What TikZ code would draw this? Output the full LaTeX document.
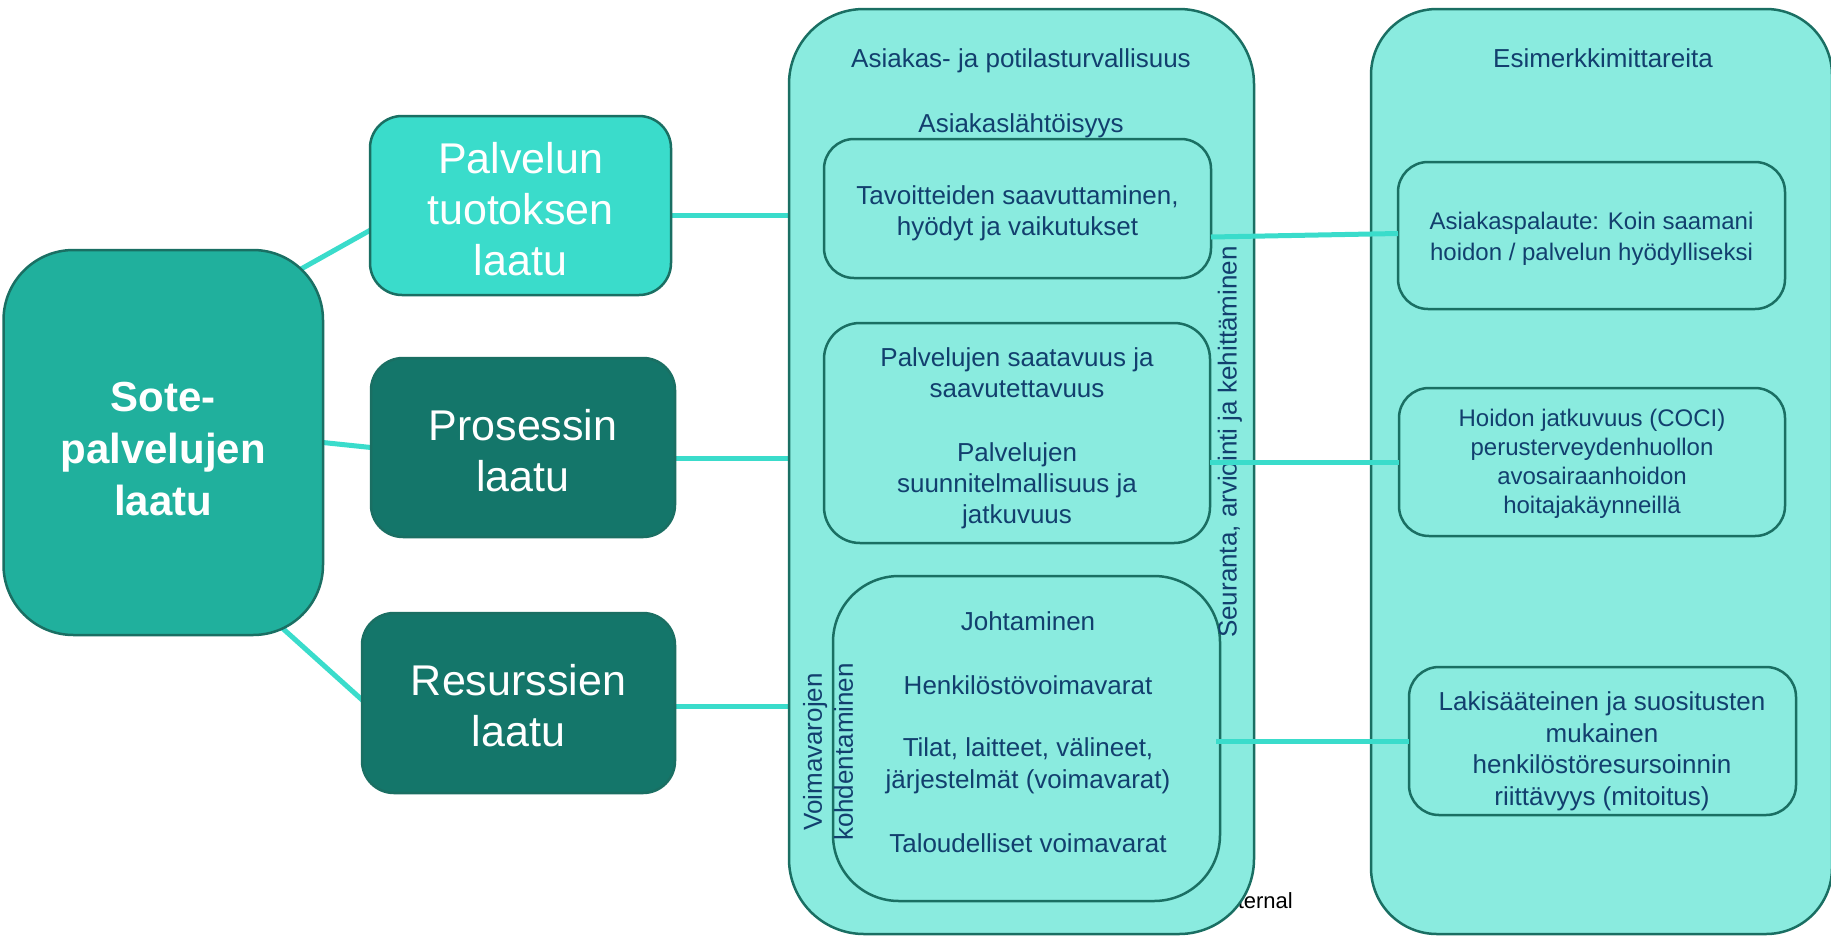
\documentclass[tikz,border=0pt]{standalone}
\usepackage{fontspec}
\setmainfont{Liberation Sans}
\usetikzlibrary{calc}

\definecolor{sotefill}{HTML}{20B09D}
\definecolor{brightfill}{HTML}{3ADCCB}
\definecolor{darkfill}{HTML}{14766A}
\definecolor{lightfill}{HTML}{8AEBDF}
\definecolor{edge}{HTML}{1A6F63}
\definecolor{ink}{HTML}{123F6E}
\definecolor{link}{HTML}{3ADCCB}

\pgfdeclarelayer{back}
\pgfsetlayers{back,main}

\begin{document}
\begin{tikzpicture}[x=1pt,y=-1pt,
  box/.style={rectangle, draw=edge, line width=2.5pt, inner sep=0pt, outer sep=0pt},
  panel/.style={box, fill=lightfill, rounded corners=#1},
  quality/.style={box, rounded corners=32pt},
  qualitytext/.style={text=white, align=center, font=\fontsize{43}{51}\selectfont},
  midtext/.style={text=ink, align=center, font=\fontsize{26}{31}\selectfont},
  smalltext/.style={text=ink, align=center, font=\fontsize{24}{29}\selectfont},
  link/.style={draw=link, line width=5pt}
]
\useasboundingbox (0,0) rectangle (1831,938);

% footer tag, partly hidden behind the middle panel
\begin{pgfonlayer}{back}
\node[anchor=base east, inner sep=0pt, font=\fontsize{22}{26}\selectfont, text=black] (tag) at (1293,908) {Internal};
\end{pgfonlayer}

% large panels
\node[panel=75pt, minimum width=465pt, minimum height=925pt] (safety) at (1021.5,471.5) {};
\node[panel=66pt, minimum width=461pt, minimum height=925pt] (metrics) at (1601.5,471.5) {};

% middle panel contents
\node[panel=30pt, minimum width=387pt, minimum height=139pt] (goals) at (1017.5,208.5) {};
\node[midtext] (goalstext) at ([shift={(0,5)}]goals.center)
  {Tavoitteiden saavuttaminen,\\hyödyt ja vaikutukset};
\node[panel=36pt, minimum width=386pt, minimum height=220pt] (access) at (1017,433) {};
\node[midtext] (accesstext) at ([shift={(0,5.5)}]access.center)
  {Palvelujen saatavuus ja\\saavutettavuus\\[33pt]Palvelujen\\suunnitelmallisuus ja\\jatkuvuus};
\node[panel=66pt, minimum width=387pt, minimum height=325pt] (resourcing) at (1026.5,738.5) {};
\node[midtext, font=\fontsize{26}{32}\selectfont] (resourcingtext) at (1028,732)
  {Johtaminen\\[32pt]Henkilöstövoimavarat\\[30pt]Tilat, laitteet, välineet,\\järjestelmät (voimavarat)\\[32pt]Taloudelliset voimavarat};

\node[midtext] (safetytitle) at (1021,61) {Asiakas- ja potilasturvallisuus};
\node[midtext] (clienttitle) at (1021,125.5) {Asiakaslähtöisyys};
\node[midtext, rotate=90] (monitoring) at (1230,442) {Seuranta, arviointi ja kehittäminen};
\node[midtext, rotate=90] (allocation) at (828,752) {Voimavarojen\\kohdentaminen};

% right panel contents
\node[midtext] (metricstitle) at (1603,58) {Esimerkkimittareita};
\node[panel=30pt, minimum width=387pt, minimum height=147pt] (feedback) at (1591.5,235.5) {};
\node[smalltext, font=\fontsize{24}{31}\selectfont] (feedbacktext) at ([shift={(0,3.5)}]feedback.center)
  {Asiakaspalaute: Koin saamani\\hoidon / palvelun hyödylliseksi};
\node[panel=30pt, minimum width=386pt, minimum height=148pt] (continuity) at (1592,462) {};
\node[smalltext] (continuitytext) at ([shift={(0,1.5)}]continuity.center)
  {Hoidon jatkuvuus (COCI)\\perusterveydenhuollon\\avosairaanhoidon\\hoitajakäynneillä};
\node[panel=30pt, minimum width=387pt, minimum height=148pt] (staffing) at (1602.5,741) {};
\node[midtext, font=\fontsize{26}{31.5}\selectfont] (staffingtext) at (1602,751.5)
  {Lakisääteinen ja suositusten\\mukainen\\henkilöstöresursoinnin\\riittävyys (mitoitus)};

% quality dimensions
\node[box, fill=sotefill, rounded corners=70pt, minimum width=319.5pt, minimum height=385pt] (sote) at (163.25,442.5) {};
\node[text=white, align=center, font=\fontsize{42}{52}\selectfont\bfseries] (sotetext) at ([shift={(0,6.5)}]sote.center)
  {Sote-\\palvelujen\\laatu};
\node[quality, fill=brightfill, minimum width=301pt, minimum height=179pt] (output) at (520.5,205.5) {};
\node[qualitytext] (outputtext) at ([shift={(0,4)}]output.center) {Palvelun\\tuotoksen\\laatu};
\node[quality, fill=darkfill, minimum width=304pt, minimum height=179pt] (process) at (523,447.5) {};
\node[qualitytext] (processtext) at ([shift={(0,3.5)}]process.center) {Prosessin\\laatu};
\node[quality, fill=darkfill, minimum width=313pt, minimum height=180pt] (resources) at (518.5,703) {};
\node[qualitytext] (resourcestext) at ([shift={(0,2.5)}]resources.center) {Resurssien\\laatu};

% connectors running beneath the boxes
\begin{pgfonlayer}{back}
\draw[link] ([shift={(-63,42)}]sote.north east) -- ([shift={(30,8)}]output.west);
\draw[link] (sote.east) -- (process.west);
\draw[link] ([shift={(-83,-45)}]sote.south east) -- ([shift={(28,22)}]resources.west);
\draw[link] ([shift={(0,9.5)}]output.east) coordinate (o1) -- (o1 -| safety.west);
\draw[link] ([shift={(0,10.5)}]process.east) coordinate (p1) -- (p1 -| safety.west);
\draw[link] ([shift={(0,3)}]resources.east) coordinate (r1) -- (r1 -| safety.west);
\end{pgfonlayer}

% connectors to the example measures
\draw[link] ([shift={(0,28.5)}]goals.east) -- ([shift={(0,-2)}]feedback.west);
\draw[link] (access.east |- continuity.west) -- (continuity.west);
\draw[link] ($(resourcing.east |- staffing.west)+(-4,0)$) -- (staffing.west);
\end{tikzpicture}
\end{document}
